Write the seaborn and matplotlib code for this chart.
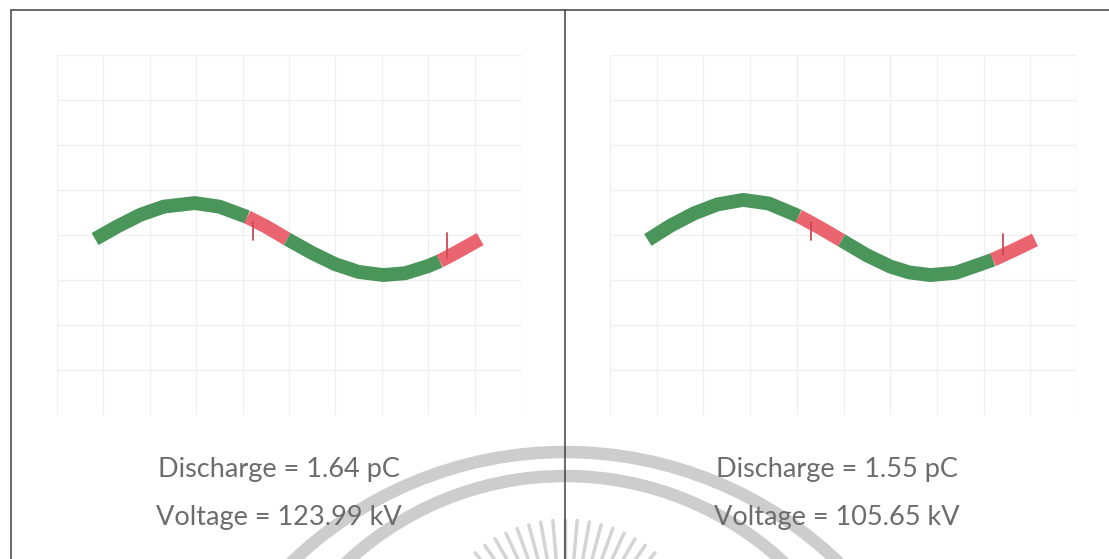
import numpy as np
import pandas as pd
import matplotlib.pyplot as plt
import seaborn as sns
from matplotlib.patches import Circle

left_x = [0.82, 1.3, 1.8, 2.3, 2.97, 3.5, 4.1, 4.5, 4.96, 5.5, 6.0, 6.5, 7.03, 7.5, 8.0, 8.25, 8.6, 9.12]
left_y = [-0.09, 0.19, 0.45, 0.63, 0.71, 0.63, 0.40, 0.19, -0.09, -0.40, -0.65, -0.82, -0.89, -0.85, -0.69, -0.58, -0.39, -0.09]
right_x = [0.81, 1.3, 1.8, 2.3, 2.85, 3.4, 4.04, 4.5, 4.96, 5.5, 6.0, 6.4, 6.86, 7.4, 7.9, 8.2, 8.6, 9.1]
right_y = [-0.11, 0.21, 0.48, 0.68, 0.78, 0.70, 0.42, 0.16, -0.12, -0.45, -0.70, -0.83, -0.89, -0.84, -0.66, -0.55, -0.36, -0.11]

# partial discharge windows (red) and spikes
left_red = [(4.1, 4.96), (8.25, 9.12)]
right_red = [(4.04, 4.96), (8.2, 9.1)]
left_spikes = [(8.4, -0.5, 0.05), (4.22, 0.3, -0.12)]
right_spikes = [(8.42, -0.45, 0.02), (4.3, 0.3, -0.1)]

discharge = ['1.64', '1.55']
voltage = ['123.99', '105.65']

W, H = 1109, 559
green = '#4a965a'
red = '#ea6570'
text_col = '#6c6c6c'

sns.set_style('white')
plt.rcParams['font.family'] = ['Lato', 'DejaVu Sans']

fig = plt.figure(figsize=(W / 100, H / 100), dpi=100)

# background layer in pixel coordinates: frame, watermark, captions
bg = fig.add_axes([0, 0, 1, 1], zorder=0)
bg.set_xlim(0, W)
bg.set_ylim(H, 0)
bg.axis('off')

for r, cy in [(394, 846), (320, 796)]:
    bg.add_patch(Circle((565, cy), r, fill=False, lw=9, color='#cdcdcd', zorder=1))
for a in np.linspace(-45, 45, 19):
    t = np.deg2rad(a)
    bg.plot([565 + 100 * np.sin(t), 565 + 140 * np.sin(t)],
            [660 - 100 * np.cos(t), 660 - 140 * np.cos(t)],
            color='#d4d4d4', lw=2.5, zorder=1)

frame = dict(color='#404040', lw=1.1, zorder=3)
bg.plot([11, W], [10, 10], **frame)
bg.plot([11, 11], [10, H], **frame)
bg.plot([565, 565], [10, H], **frame)


def panel(x0, x1, xs, ys, reds, spikes):
    ax = fig.add_axes([x0 / W, (H - 415) / H, (x1 - x0) / W, 360 / H], zorder=2)
    ax.patch.set_alpha(0)
    ax.set_xlim(0, 10)
    ax.set_ylim(-4, 4)
    ax.set_xticks(range(11))
    ax.set_yticks(range(-4, 5))
    ax.grid(True, color='#efefef', lw=0.9)
    ax.tick_params(length=0, labelbottom=False, labelleft=False)
    for s in ax.spines.values():
        s.set_visible(False)

    df = pd.DataFrame({'x': xs, 'y': ys})
    # green runs include the boundary points so the trace stays continuous
    bounds = [df.x.min()] + [v for ab in reds for v in ab] + [df.x.max()]
    for i in range(len(bounds) - 1):
        a, b = bounds[i], bounds[i + 1]
        seg = df[(df.x >= a) & (df.x <= b)]
        if len(seg) < 2:
            continue
        col = red if any(abs(a - ra) < 1e-9 for ra, _ in reds) else green
        sns.lineplot(data=seg, x='x', y='y', color=col, lw=10, ax=ax,
                     estimator=None, sort=False, solid_capstyle='butt',
                     solid_joinstyle='round')
    for sx, y0, y1 in spikes:
        ax.plot([sx, sx], [y0, y1], color='#c94a55', lw=1.3)
    ax.set_xlabel('')
    ax.set_ylabel('')
    return ax


panel(57, 521, left_x, left_y, left_red, left_spikes)
panel(610, 1077, right_x, right_y, right_red, right_spikes)

for cx, d, v in [(279, discharge[0], voltage[0]), (837, discharge[1], voltage[1])]:
    bg.text(cx, 470, f'Discharge = {d} pC', ha='center', va='center',
            fontsize=19.5, fontweight='normal', color=text_col, zorder=4)
    bg.text(cx, 517, f'Voltage = {v} kV', ha='center', va='center',
            fontsize=19.5, fontweight='normal', color=text_col, zorder=4)

fig.savefig('out.png', dpi=100)
